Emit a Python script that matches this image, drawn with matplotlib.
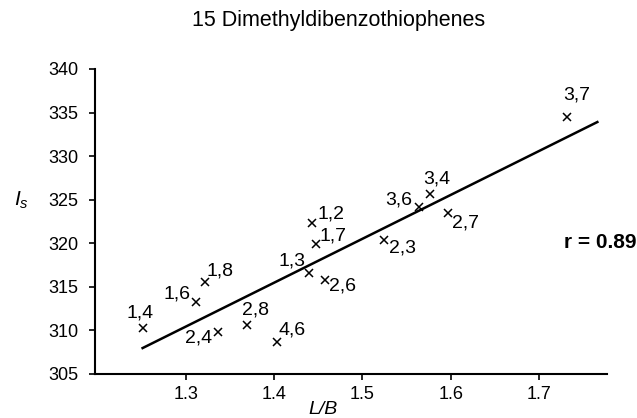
import matplotlib
matplotlib.use('Agg')
import matplotlib.pyplot as plt
import numpy as np

plt.rcParams['font.family'] = ['Liberation Sans', 'DejaVu Sans']
plt.rcParams['mathtext.fontset'] = 'custom'
plt.rcParams['mathtext.it'] = 'Liberation Sans:italic'
plt.rcParams['mathtext.rm'] = 'Liberation Sans'

# isomer labels, L/B and Is values
isomers = ['1,4', '1,6', '1,8', '2,4', '2,8', '4,6', '1,3', '2,6',
           '1,7', '1,2', '2,3', '3,6', '3,4', '2,7', '3,7']
lb = np.array([1.251, 1.311, 1.322, 1.336, 1.369, 1.403, 1.439, 1.458,
               1.447, 1.443, 1.524, 1.564, 1.577, 1.597, 1.732])
i_s = np.array([310.3, 313.3, 315.6, 309.8, 310.6, 308.7, 316.6, 315.8,
                319.9, 322.3, 320.4, 324.2, 325.6, 323.5, 334.5])
fit_range = [1.251, 1.766]
r_value = 0.89

# label offsets in pixels (dx, dy up)
offsets = {'1,4': (-3, 15), '1,6': (-19, 8), '1,8': (15, 11), '2,4': (-19, -6),
           '2,8': (9, 15), '4,6': (15, 12), '1,3': (-17, 12), '2,6': (17, -6),
           '1,7': (17, 8), '1,2': (19, 9), '2,3': (19, -8), '3,6': (-20, 7),
           '3,4': (6, 15), '2,7': (17, -10), '3,7': (9, 22)}

fig = plt.figure(figsize=(6.37, 4.18), dpi=100, facecolor='white')
ax = fig.add_axes([0.149, 0.1053, 0.804, 0.7297])

slope, icpt = np.polyfit(lb, i_s, 1)
fx = np.array(fit_range)
ax.plot(fx, slope * fx + icpt, color='black', linewidth=1.8)

ax.plot(lb, i_s, linestyle='none', marker='x', color='black',
        markersize=6, markeredgewidth=1.1)

for name, x, y in zip(isomers, lb, i_s):
    dx, dy = offsets[name]
    ax.annotate(name, (x, y), xytext=(dx, dy), textcoords='offset pixels',
                ha='center', va='center', fontsize=14)

ax.set_xlim(1.197, 1.777)
ax.set_ylim(305, 340)
ax.set_xticks([1.3, 1.4, 1.5, 1.6, 1.7])
ax.set_xticklabels(['1.3', '1.4', '1.5', '1.6', '1.7'])
ax.set_yticks(np.arange(305, 341, 5))

ax.spines['top'].set_visible(False)
ax.spines['right'].set_visible(False)
ax.spines['left'].set_linewidth(1.5)
ax.spines['bottom'].set_linewidth(1.5)
ax.tick_params(axis='both', direction='out', length=4, width=1.2,
               labelsize=13, colors='black')
ax.tick_params(axis='y', pad=8)
ax.tick_params(axis='x', pad=5)

ax.text(-0.143, 0.57, r'$I_s$', transform=ax.transAxes, ha='center',
        va='center', fontsize=15)
ax.text(0.445, -0.118, 'L/B', transform=ax.transAxes, ha='center',
        va='center', fontsize=14, style='italic')
ax.text(1.057, 0.43, 'r = %.2f' % r_value, transform=ax.transAxes,
        ha='right', va='center', fontsize=15, fontweight='bold')

fig.text(0.532, 0.952, '15 Dimethyldibenzothiophenes', ha='center',
         va='center', fontsize=15.5)

fig.savefig('out.png', dpi=100)
